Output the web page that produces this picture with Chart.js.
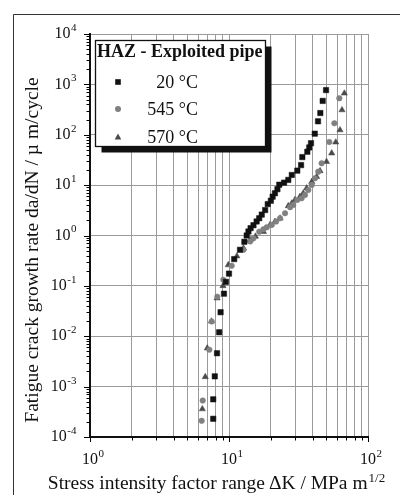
<!DOCTYPE html>
<html>
<head>
<meta charset="utf-8">
<script src="https://cdn.jsdelivr.net/npm/chart.js@4.4.0/dist/chart.umd.min.js"></script>
<style>
  html, body { margin: 0; padding: 0; background: #fff; }
</style>
</head>
<body>
<canvas id="fcgrChart" width="400" height="495"></canvas>
<script>
// Values: ΔK in MPa m^1/2, da/dN in µm/cycle
const seriesLabels = ['20 °C', '545 °C', '570 °C'];

const dk20 = [7.7, 7.7, 7.9, 8.2, 8.5, 8.7, 9.2, 9.5, 10.0, 10.9, 12.0, 12.9, 13.4, 13.8, 14.3, 15.0, 15.8, 16.5, 17.2, 18.2,
  19.0, 20.0, 20.6, 21.4, 22.3, 23.0, 24.9, 26.7, 28.3, 31.0, 33.0, 33.7, 36.6, 37.8, 38.9, 41.4, 43.7, 45.4, 47.2, 49.9];
const rate20 = [2.3e-4, 5.6e-4, 1.6e-3, 4.6e-3, 0.012, 0.03, 0.07, 0.12, 0.175, 0.34, 0.52, 0.75, 1.0, 1.2, 1.4, 1.6, 1.9, 2.2, 2.6, 3.2,
  4.2, 4.9, 5.9, 6.9, 8.3, 10.2, 11.2, 12.7, 15.9, 19.4, 25, 36, 46, 56, 68, 105, 185, 270, 470, 770];

const dk545 = [6.36, 6.47, 7.22, 7.51, 8.24, 9.10, 10.45, 12.7, 14.2, 15.0, 16.5, 17.7, 18.7, 20.3, 21.8, 23.3, 25.3, 27.5, 29.0, 31.0,
  33.3, 35.2, 37.2, 39.4, 41.6, 43.9, 46.4, 52.7, 57.3, 62.2];
const rate545 = [2.1e-4, 5.3e-4, 5.4e-3, 0.0196, 0.061, 0.132, 0.25, 0.52, 0.76, 0.88, 1.19, 1.33, 1.46, 1.62, 1.89, 2.2, 2.77, 3.65, 4.05, 5.08,
  5.5, 6.4, 8.0, 10.1, 13.7, 18.5, 27.2, 72, 169, 530];

const dk570 = [6.43, 6.75, 6.98, 7.48, 8.20, 9.05, 9.89, 11.4, 12.7, 14.2, 15.5, 17.7, 19.7, 21.4, 23.3, 26.7, 28.3, 29.8, 32.4, 34.2,
  36.2, 39.4, 42.7, 45.2, 50.3, 54.8, 58.6, 62.9, 65.0, 67.6];
const rate570 = [3.6e-4, 1.56e-3, 5.8e-3, 0.0198, 0.057, 0.1, 0.26, 0.39, 0.56, 0.82, 0.96, 1.19, 1.62, 1.89, 2.2, 3.87, 4.37, 5.08, 5.9, 6.9,
  8.7, 11.7, 14.7, 19.1, 29.2, 43, 71, 124, 310, 665];

// decade exponents shown on the axes
const xExps = [0, 1, 2];
const yExps = [-4, -3, -2, -1, 0, 1, 2, 3, 4];

const legendTitle = 'HAZ - Exploited pipe';
const xTitle = 'Stress intensity factor range\u2009\u0394K / MPa m';
const xTitleSup = '1/2';
const yTitle = 'Fatigue crack growth rate da/dN / \u00b5 m/cycle';

const serif = '"Liberation Serif", "Times New Roman", serif';

function toPoints(xs, ys) {
  return xs.map((x, i) => ({ x: x, y: ys[i] }));
}

// 1..9 x 10^n for every decade, plus the last decade line
function logTicks(exps) {
  const out = [];
  for (let i = 0; i < exps.length - 1; i++) {
    for (let k = 1; k <= 9; k++) out.push({ value: k * Math.pow(10, exps[i]) });
  }
  out.push({ value: Math.pow(10, exps[exps.length - 1]) });
  return out;
}

function isDecade(v) {
  const l = Math.log10(v);
  return Math.abs(l - Math.round(l)) < 1e-6;
}

// "10" with a raised exponent
function drawPow(ctx, exp, x, y, align) {
  const base = '16px ' + serif;
  const sup = '11px ' + serif;
  ctx.font = base;
  const wb = ctx.measureText('10').width;
  ctx.font = sup;
  const we = ctx.measureText(exp).width;
  const x0 = align === 'right' ? x - wb - we - 1 : x - wb / 2;
  ctx.textAlign = 'left';
  ctx.textBaseline = 'middle';
  ctx.font = base;
  ctx.fillText('10', x0, y);
  ctx.font = sup;
  ctx.fillText(exp, x0 + wb + 0.5, y - 6);
}

function drawMarker(ctx, style, color, x, y) {
  ctx.fillStyle = color;
  ctx.beginPath();
  if (style === 'rect') {
    ctx.rect(x - 2.8, y - 2.8, 5.6, 5.6);
  } else if (style === 'circle') {
    ctx.arc(x, y, 3, 0, Math.PI * 2);
  } else {
    ctx.moveTo(x, y - 3.6);
    ctx.lineTo(x + 3.3, y + 2.6);
    ctx.lineTo(x - 3.3, y + 2.6);
    ctx.closePath();
  }
  ctx.fill();
}

const decorations = {
  id: 'decorations',
  afterDraw(chart) {
    const ctx = chart.ctx;
    const xs = chart.scales.x;
    const ys = chart.scales.y;
    const area = chart.chartArea;
    ctx.save();

    // outer frame
    ctx.strokeStyle = '#333';
    ctx.lineWidth = 1;
    ctx.beginPath();
    ctx.moveTo(13.5, 495);
    ctx.lineTo(13.5, 14.5);
    ctx.lineTo(400, 14.5);
    ctx.stroke();

    // tick marks
    ctx.strokeStyle = '#000';
    ctx.lineWidth = 1;
    ctx.beginPath();
    ys.ticks.forEach(t => {
      const py = Math.round(ys.getPixelForValue(t.value)) + 0.5;
      const len = isDecade(t.value) ? 6 : 3.5;
      ctx.moveTo(area.left - len, py);
      ctx.lineTo(area.left, py);
    });
    xs.ticks.forEach(t => {
      const px = Math.round(xs.getPixelForValue(t.value)) + 0.5;
      const len = isDecade(t.value) ? 5 : 3.5;
      ctx.moveTo(px, area.bottom);
      ctx.lineTo(px, area.bottom + len);
    });
    ctx.stroke();

    // tick labels
    ctx.fillStyle = '#111';
    yExps.forEach(e => {
      drawPow(ctx, String(e), area.left - 13, ys.getPixelForValue(Math.pow(10, e)), 'right');
    });
    xExps.forEach(e => {
      drawPow(ctx, String(e), xs.getPixelForValue(Math.pow(10, e)), 460, 'center');
    });

    // axis titles
    ctx.font = '19.5px ' + serif;
    const wMain = ctx.measureText(xTitle).width;
    ctx.font = '13px ' + serif;
    const wSup = ctx.measureText(xTitleSup).width;
    const startX = 216 - (wMain + wSup) / 2;
    ctx.textAlign = 'left';
    ctx.textBaseline = 'alphabetic';
    ctx.font = '19.5px ' + serif;
    ctx.fillText(xTitle, startX, 489);
    ctx.font = '13px ' + serif;
    ctx.fillText(xTitleSup, startX + wMain + 1, 482);

    ctx.save();
    ctx.translate(33, 250);
    ctx.rotate(-Math.PI / 2);
    ctx.textAlign = 'center';
    ctx.textBaseline = 'middle';
    ctx.font = '19.5px ' + serif;
    ctx.fillText(yTitle, 0, 0);
    ctx.restore();

    // legend box with its drop shadow
    const bx = 95.5, by = 40.5, bw = 170, bh = 106;
    ctx.fillStyle = '#111';
    ctx.fillRect(bx + 6, by + 6, bw, bh);
    ctx.fillStyle = '#fff';
    ctx.fillRect(bx, by, bw, bh);
    ctx.strokeStyle = '#111';
    ctx.lineWidth = 1.3;
    ctx.strokeRect(bx, by, bw, bh);

    ctx.fillStyle = '#111';
    ctx.textBaseline = 'middle';
    ctx.textAlign = 'left';
    ctx.font = 'bold 18px ' + serif;
    ctx.fillText(legendTitle, 97, 52);

    const rowY = [82, 109, 137];
    chart.data.datasets.forEach((ds, i) => {
      drawMarker(ctx, ds.pointStyle, ds.backgroundColor, 118, rowY[i]);
      ctx.fillStyle = '#111';
      ctx.textAlign = 'right';
      ctx.font = '18px ' + serif;
      ctx.fillText(ds.label, 198, rowY[i] + 1);
    });

    ctx.restore();
  }
};

const gridGray = '#9a9a9a';

const chart = new Chart(document.getElementById('fcgrChart').getContext('2d'), {
  type: 'scatter',
  data: {
    datasets: [
      {
        label: seriesLabels[0],
        data: toPoints(dk20, rate20),
        pointStyle: 'rect',
        pointRadius: 3.8,
        backgroundColor: '#111111',
        borderColor: '#111111',
        borderWidth: 0.5
      },
      {
        label: seriesLabels[1],
        data: toPoints(dk545, rate545),
        pointStyle: 'circle',
        pointRadius: 2.8,
        backgroundColor: '#808080',
        borderColor: '#808080',
        borderWidth: 0.5
      },
      {
        label: seriesLabels[2],
        data: toPoints(dk570, rate570),
        pointStyle: 'triangle',
        pointRadius: 3.6,
        backgroundColor: '#4a4a4a',
        borderColor: '#4a4a4a',
        borderWidth: 0.5
      }
    ]
  },
  options: {
    responsive: false,
    animation: false,
    devicePixelRatio: 1,
    layout: { padding: { left: 90, top: 34, right: 32, bottom: 58 } },
    plugins: {
      legend: { display: false },
      tooltip: { enabled: false }
    },
    scales: {
      x: {
        type: 'logarithmic',
        min: Math.pow(10, xExps[0]),
        max: Math.pow(10, xExps[xExps.length - 1]),
        afterBuildTicks: scale => { scale.ticks = logTicks(xExps); },
        ticks: { display: false },
        grid: { color: gridGray, lineWidth: 1, drawTicks: false },
        border: { color: '#111', width: 2 }
      },
      y: {
        type: 'logarithmic',
        min: Math.pow(10, yExps[0]),
        max: Math.pow(10, yExps[yExps.length - 1]),
        afterBuildTicks: scale => { scale.ticks = logTicks(yExps); },
        ticks: { display: false },
        grid: {
          color: c => (c.tick && isDecade(c.tick.value)) ? gridGray : 'rgba(0,0,0,0)',
          lineWidth: 1,
          drawTicks: false
        },
        border: { color: '#111', width: 2 }
      }
    }
  },
  plugins: [decorations]
});
</script>
</body>
</html>
